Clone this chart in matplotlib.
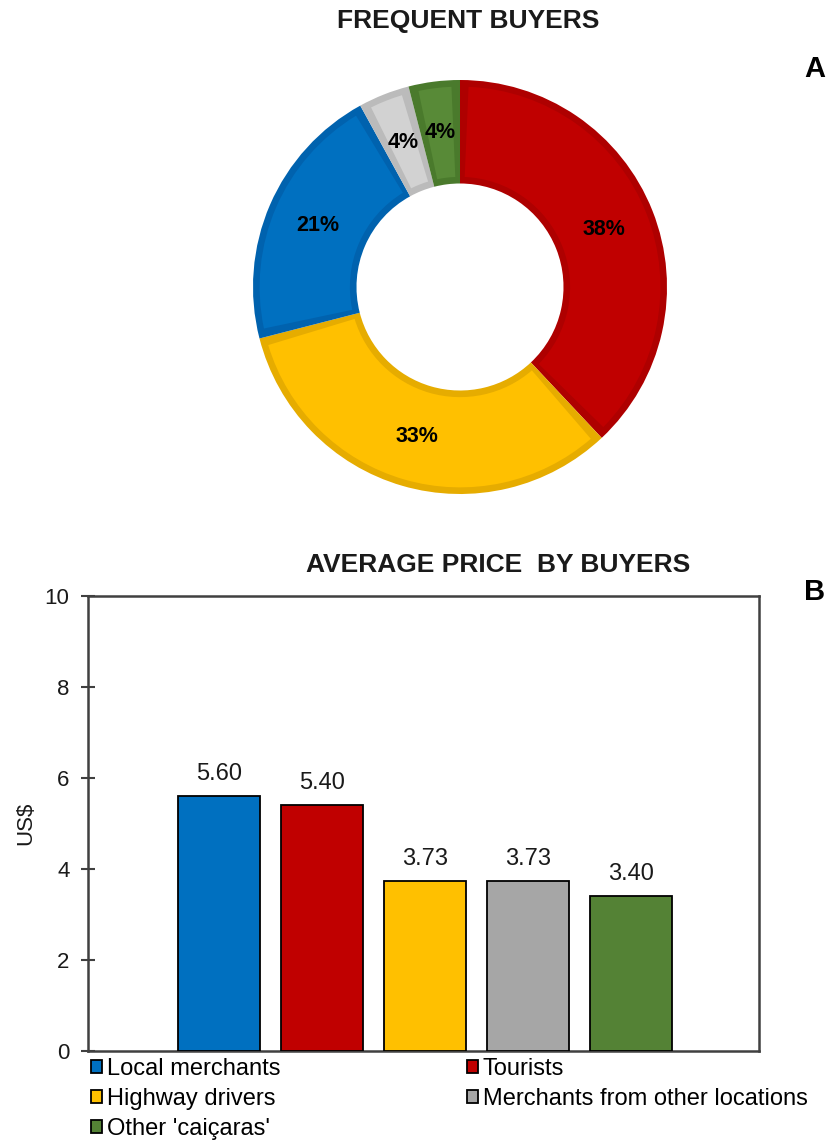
import matplotlib
matplotlib.use("Agg")
import matplotlib.pyplot as plt
from matplotlib.patches import Patch, Wedge
import numpy as np

plt.rcParams["font.family"] = ["Liberation Sans", "DejaVu Sans"]

# data
pie_labels = ["Tourists", "Highway drivers", "Local merchants",
              "Merchants from other locations", "Other 'caiçaras'"]
pie_shares = [38, 33, 21, 4, 4]
pie_colors = ["#C00000", "#FFC000", "#0070C0", "#D2D2D2", "#588A37"]
pie_edges = ["#AE0000", "#E6AC00", "#0062AE", "#BBBBBB", "#4A7A2C"]

buyers = ["Local merchants", "Tourists", "Highway drivers",
          "Merchants from other locations", "Other 'caiçaras'"]
prices = [5.60, 5.40, 3.73, 3.73, 3.40]
bar_colors = ["#0070C0", "#C00000", "#FFC000", "#A6A6A6", "#548235"]

W, H = 828, 1142
fig = plt.figure(figsize=(W / 100, H / 100), dpi=100)


def box(left, top, right, bottom):
    # pixel box -> figure fraction
    return [left / W, 1 - bottom / H, (right - left) / W, (bottom - top) / H]


# ── A: donut ─────────────────────────────────────────────
ax1 = fig.add_axes(box(253, 80, 667, 494))
wedges, _, autotexts = ax1.pie(
    pie_shares, colors=pie_edges, startangle=90, counterclock=False,
    radius=1, autopct="%1.0f%%", pctdistance=0.75,
    wedgeprops=dict(width=0.5, linewidth=0),
    textprops=dict(fontsize=15.5, fontweight="bold", color="black"))

# darker rim: lay a slightly smaller wedge of the fill colour over each slice
d = 0.032
dang = np.degrees(d / 0.75)
for w, fc in zip(wedges, pie_colors):
    inner = Wedge((0, 0), 1 - d, w.theta1 + dang, w.theta2 - dang,
                  width=0.5 - 2 * d, facecolor=fc, linewidth=0, zorder=1.5)
    ax1.add_patch(inner)
for t in autotexts:
    t.set_zorder(3)
ax1.set_xlim(-1, 1)
ax1.set_ylim(-1, 1)
ax1.set_aspect("equal")

fig.text(468 / W, 1 - 21 / H, "FREQUENT BUYERS", ha="center", va="center",
         fontsize=19, fontweight="bold", color="#1a1a1a")
fig.text(815 / W, 1 - 69 / H, "A", ha="center", va="center",
         fontsize=21, fontweight="bold")

# ── B: bars ──────────────────────────────────────────────
ax2 = fig.add_axes(box(88, 596, 759, 1051))
x = list(range(len(prices)))
bars = ax2.bar(x, prices, width=0.8, color=bar_colors,
               edgecolor="black", linewidth=1.3, zorder=3)
for b, v in zip(bars, prices):
    ax2.text(b.get_x() + b.get_width() / 2, v + 0.25, f"{v:.2f}",
             ha="center", va="bottom", fontsize=17, color="#1a1a1a")

ax2.set_xlim(-1.27, 5.24)
ax2.set_ylim(0, 10)
ax2.set_yticks([0, 2, 4, 6, 8, 10])
ax2.set_xticks([])
ax2.tick_params(axis="y", direction="inout", length=10.5, width=1.5,
                color="#404040", labelsize=16, labelcolor="#1a1a1a", pad=8)
for s in ax2.spines.values():
    s.set_color("#404040")
    s.set_linewidth(1.8)
ax2.set_ylabel("US$", fontsize=16, color="#1a1a1a", labelpad=6)

fig.text(498 / W, 1 - 565 / H, "AVERAGE PRICE  BY BUYERS", ha="center",
         va="center", fontsize=19, fontweight="bold", color="#1a1a1a")
fig.text(815 / W, 1 - 592 / H, "B", ha="center", va="center",
         fontsize=21, fontweight="bold")

# legend, column-major order so rows read Local/Tourists, Highway/Merchants, Other
order = [0, 2, 4, 1, 3]
handles = [Patch(facecolor=bar_colors[i], edgecolor="black", linewidth=1.3)
           for i in order]
labels = [buyers[i] for i in order]
fig.legend(handles, labels, loc="upper left",
           bbox_to_anchor=(86 / W, 1 - 1053 / H), ncol=2, frameon=False,
           fontsize=17, handlelength=0.48, handleheight=0.48,
           handletextpad=0.2, columnspacing=7.9, labelspacing=0.35,
           borderpad=0.2, borderaxespad=0)

fig.savefig("out.png", dpi=100)
